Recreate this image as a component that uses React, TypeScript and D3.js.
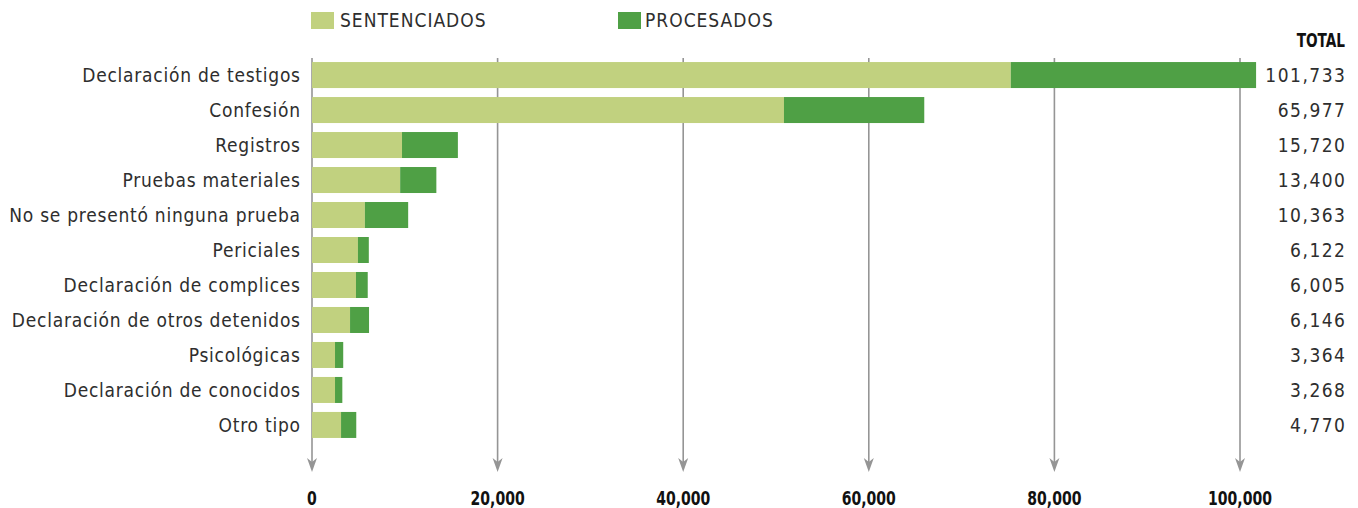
import React from "react";
import * as d3 from "d3";

const categories = [
  "Declaración de testigos",
  "Confesión",
  "Registros",
  "Pruebas materiales",
  "No se presentó ninguna prueba",
  "Periciales",
  "Declaración de complices",
  "Declaración de otros detenidos",
  "Psicológicas",
  "Declaración de conocidos",
  "Otro tipo",
];
const totals = [101733, 65977, 15720, 13400, 10363, 6122, 6005, 6146, 3364, 3268, 4770];
const sentenciados = [75300, 50860, 9700, 9500, 5700, 4950, 4740, 4100, 2480, 2480, 3130];
const procesados = totals.map((t, i) => t - sentenciados[i]);
const ticks = [0, 20000, 40000, 60000, 80000, 100000];
const seriesNames = ["SENTENCIADOS", "PROCESADOS"];

const W = 1358;
const H = 508;
const LIGHT = "#c1d17f";
const DARK = "#4fa045";
const GRID = "#959595";
const TEXT = "#2e2e2e";
const labelFont = "'DejaVu Sans Condensed', 'DejaVu Sans', sans-serif";
const boldFont = "'DejaVu Sans Condensed', 'DejaVu Sans', sans-serif";

export default function App() {
  const x = d3.scaleLinear().domain([0, 100000]).range([312, 1240]);
  const y = d3
    .scaleBand<string>()
    .domain(categories)
    .range([57.5, 442.5])
    .paddingInner(0.257)
    .paddingOuter(0.13);
  const bh = y.bandwidth();
  const fmt = d3.format(",");
  const LS = 0.75;
  const NS = 1.5;

  return (
    <svg
      width={W}
      height={H}
      style={{ position: "absolute", left: 0, top: 0, background: "#fff" }}
    >
      {/* legend */}
      <rect x={311} y={12} width={23} height={17} fill={LIGHT} />
      <text x={340} y={27} fontFamily={labelFont} fontSize={19} letterSpacing={1} fill={TEXT}>
        {seriesNames[0]}
      </text>
      <rect x={618} y={12} width={23} height={17} fill={DARK} />
      <text x={645} y={27} fontFamily={labelFont} fontSize={19} letterSpacing={1} fill={TEXT}>
        {seriesNames[1]}
      </text>

      {/* grid lines with arrows */}
      {ticks.map((t) => (
        <g key={"g" + t}>
          <line
            x1={x(t)}
            x2={x(t)}
            y1={58}
            y2={464}
            stroke={GRID}
            strokeWidth={1.6}
          />
          <path
            d={`M${x(t) - 5},458 L${x(t)},462 L${x(t) + 5},458 L${x(t)},472 Z`}
            fill={GRID}
          />
        </g>
      ))}

      {/* bars */}
      {categories.map((c, i) => (
        <g key={c}>
          <rect
            x={x(0)}
            y={y(c)}
            width={x(sentenciados[i]) - x(0)}
            height={bh}
            fill={LIGHT}
          />
          <rect
            x={x(sentenciados[i])}
            y={y(c)}
            width={x(sentenciados[i] + procesados[i]) - x(sentenciados[i])}
            height={bh}
            fill={DARK}
          />
          <text
            x={300 + LS}
            y={(y(c) as number) + bh / 2}
            dy="0.35em"
            textAnchor="end"
            fontFamily={labelFont}
            fontSize={19}
            letterSpacing={LS}
            fill={TEXT}
          >
            {c}
          </text>
          <text
            x={1345 + NS}
            y={(y(c) as number) + bh / 2}
            dy="0.35em"
            textAnchor="end"
            fontFamily={labelFont}
            fontSize={19}
            letterSpacing={NS}
            fill={TEXT}
          >
            {fmt(totals[i])}
          </text>
        </g>
      ))}

      <text
        transform="translate(1345,47) scale(0.8,1)"
        textAnchor="end"
        fontFamily={boldFont}
        fontWeight="bold"
        fontSize={19}
        fill="#111"
      >
        TOTAL
      </text>

      {/* tick labels */}
      {ticks.map((t) => (
        <text
          key={"t" + t}
          transform={`translate(${x(t)},505) scale(0.78,1)`}
          textAnchor="middle"
          fontFamily={boldFont}
          fontWeight="bold"
          fontSize={20}
          fill="#111"
        >
          {fmt(t)}
        </text>
      ))}
    </svg>
  );
}
